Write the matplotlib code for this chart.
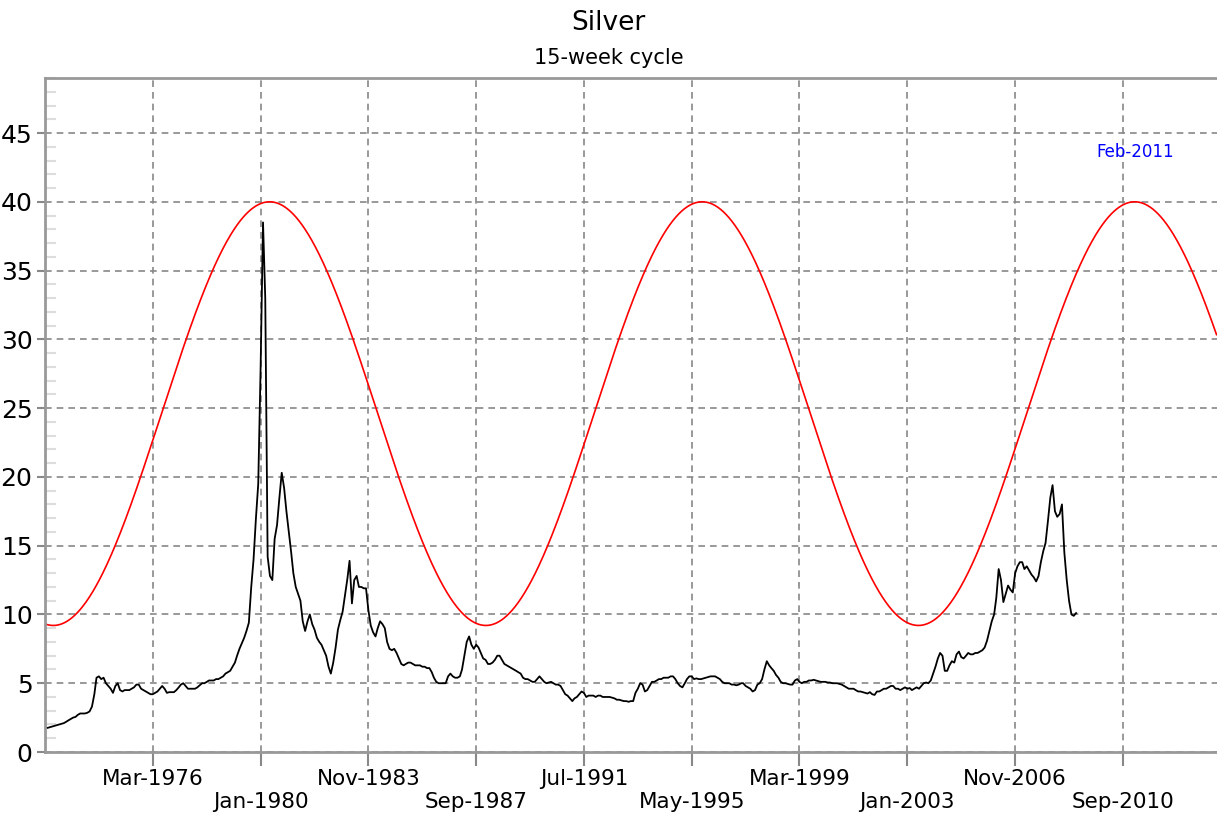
import numpy as np
import pandas as pd
import matplotlib
matplotlib.use("Agg")
import matplotlib.pyplot as plt
from matplotlib.ticker import MultipleLocator

# monthly silver price (USD/oz), starting May-1972
price_start = "1972-05-01"
silver = [
    1.80, 1.75, 1.80, 1.85, 1.90, 1.95, 2.00, 2.05,                     # 1972
    2.10, 2.20, 2.30, 2.40, 2.50, 2.55, 2.70, 2.80, 2.80, 2.80, 2.85, 2.95,  # 1973
    3.30, 4.20, 5.40, 5.50, 5.30, 5.40, 5.00, 4.80, 4.60, 4.30, 4.80, 5.00,  # 1974
    4.50, 4.40, 4.50, 4.50, 4.50, 4.60, 4.70, 4.90, 4.90, 4.60, 4.50, 4.40,  # 1975
    4.30, 4.20, 4.20, 4.30, 4.40, 4.60, 4.80, 4.60, 4.30, 4.35, 4.35, 4.35,  # 1976
    4.50, 4.70, 4.90, 5.00, 4.80, 4.60, 4.60, 4.60, 4.60, 4.70, 4.85, 5.00,  # 1977
    5.00, 5.10, 5.20, 5.20, 5.20, 5.30, 5.30, 5.40, 5.50, 5.70, 5.80, 5.90,  # 1978
    6.20, 6.50, 7.00, 7.50, 7.90, 8.30, 8.80, 9.40, 12.0, 14.0, 17.0, 19.5,  # 1979
    28.0, 38.5, 33.0, 14.2, 12.8, 12.5, 15.5, 16.5, 18.5, 20.3, 19.2, 17.5,  # 1980
    16.0, 14.5, 13.0, 12.0, 11.5, 11.0, 9.50, 8.80, 9.50, 10.0, 9.30, 8.90,  # 1981
    8.30, 8.00, 7.80, 7.40, 7.00, 6.20, 5.70, 6.50, 7.60, 8.90, 9.60, 10.2,  # 1982
    11.4, 12.6, 13.9, 10.8, 12.5, 12.8, 12.0, 12.0, 11.9, 11.9, 10.3, 9.20,  # 1983
    8.70, 8.40, 9.00, 9.50, 9.30, 9.00, 8.00, 7.50, 7.40, 7.50, 7.20, 6.80,  # 1984
    6.40, 6.30, 6.40, 6.50, 6.50, 6.40, 6.30, 6.30, 6.30, 6.20, 6.20, 6.10,  # 1985
    6.10, 5.80, 5.40, 5.10, 5.00, 5.00, 5.00, 5.00, 5.50, 5.70, 5.50, 5.40,  # 1986
    5.40, 5.50, 6.00, 7.00, 8.00, 8.40, 7.80, 7.50, 7.80, 7.60, 7.20, 6.80,  # 1987
    6.70, 6.40, 6.40, 6.50, 6.70, 7.00, 7.00, 6.70, 6.40, 6.30, 6.20, 6.10,  # 1988
    6.00, 5.90, 5.80, 5.70, 5.40, 5.30, 5.30, 5.20, 5.10, 5.10, 5.30, 5.50,  # 1989
    5.30, 5.10, 5.00, 5.05, 5.10, 5.00, 4.90, 4.90, 4.80, 4.50, 4.20, 4.10,  # 1990
    3.90, 3.70, 3.90, 4.00, 4.20, 4.40, 4.30, 4.00, 4.10, 4.10, 4.10, 4.00,  # 1991
    4.10, 4.10, 4.00, 4.00, 4.00, 4.00, 3.95, 3.90, 3.80, 3.80, 3.75, 3.70,  # 1992
    3.70, 3.65, 3.70, 3.70, 4.30, 4.60, 5.00, 4.90, 4.40, 4.50, 4.80, 5.10,  # 1993
    5.10, 5.20, 5.30, 5.30, 5.40, 5.40, 5.40, 5.50, 5.50, 5.30, 5.00, 4.80,  # 1994
    4.70, 5.00, 5.30, 5.50, 5.50, 5.30, 5.35, 5.30, 5.30, 5.35, 5.40, 5.45,  # 1995
    5.50, 5.50, 5.50, 5.40, 5.30, 5.10, 5.00, 5.00, 5.00, 4.90, 4.90, 4.85,  # 1996
    4.90, 5.00, 5.00, 4.80, 4.70, 4.60, 4.40, 4.50, 4.90, 5.00, 5.30, 6.00,  # 1997
    6.60, 6.30, 6.10, 5.90, 5.60, 5.40, 5.10, 5.00, 5.00, 4.95, 4.90, 4.90,  # 1998
    5.20, 5.30, 5.10, 5.00, 5.10, 5.10, 5.20, 5.20, 5.25, 5.20, 5.15, 5.10,  # 1999
    5.10, 5.10, 5.05, 5.05, 5.00, 5.00, 5.00, 4.95, 4.90, 4.80, 4.70, 4.60,  # 2000
    4.60, 4.60, 4.50, 4.40, 4.40, 4.35, 4.30, 4.25, 4.35, 4.20, 4.15, 4.40,  # 2001
    4.40, 4.50, 4.60, 4.60, 4.70, 4.80, 4.80, 4.60, 4.60, 4.50, 4.60, 4.70,  # 2002
    4.60, 4.65, 4.50, 4.60, 4.70, 4.60, 4.80, 5.00, 5.05, 5.00, 5.20, 5.70,  # 2003
    6.20, 6.80, 7.20, 7.00, 5.90, 5.90, 6.30, 6.60, 6.50, 7.10, 7.30, 6.90,  # 2004
    6.80, 7.00, 7.20, 7.10, 7.10, 7.20, 7.20, 7.30, 7.40, 7.60, 8.10, 8.80,  # 2005
    9.50, 10.0, 11.2, 13.3, 12.5, 10.9, 11.5, 12.1, 11.8, 11.6, 13.0, 13.5,  # 2006
    13.8, 13.8, 13.3, 13.5, 13.2, 12.9, 12.7, 12.4, 12.8, 13.8, 14.6, 15.2,  # 2007
    16.8, 18.5, 19.4, 17.5, 17.1, 17.3, 18.0, 14.5, 12.5, 11.0, 10.0, 9.90,  # 2008
    10.1,                                                                # 2009
]

# cycle
cycle_peak = "2011-02-01"
cycle_period_months = 184.6
cycle_low = 9.2
cycle_high = 40.0

tick_labels = ["Mar-1976", "Jan-1980", "Nov-1983", "Sep-1987", "Jul-1991",
               "May-1995", "Mar-1999", "Jan-2003", "Nov-2006", "Sep-2010"]

x_start = "1972-05-01"
x_end = "2014-01-05"

price_dates = pd.date_range(price_start, periods=len(silver), freq="MS")

cyc_dates = pd.date_range(x_start, x_end, freq="7D")
months = (cyc_dates - pd.Timestamp(cycle_peak)).days / 30.4375
mid = (cycle_low + cycle_high) / 2
amp = (cycle_high - cycle_low) / 2
cycle = mid + amp * np.cos(2 * np.pi * months / cycle_period_months)

tick_dates = pd.to_datetime(tick_labels, format="%b-%Y")

fig = plt.figure(figsize=(12.17, 8.15), dpi=100)
ax = fig.add_axes([45 / 1217, 1 - 752 / 815, 1 - 45 / 1217, (752 - 78) / 815])

ax.plot(cyc_dates, cycle, color="#ff0000", lw=1.2)
ax.plot(price_dates, silver, color="black", lw=1.3)

ax.set_xlim(pd.Timestamp(x_start), pd.Timestamp(x_end))
ax.set_ylim(0, 49)

ax.set_xticks(tick_dates)
ax.set_xticklabels([lab if i % 2 == 0 else "\n" + lab for i, lab in enumerate(tick_labels)],
                   fontsize=15.5)
ax.yaxis.set_major_locator(MultipleLocator(5))
ax.yaxis.set_minor_locator(MultipleLocator(1))
ax.tick_params(axis="y", which="major", labelsize=18, length=6, color="#888888", width=1.5, pad=3)
ax.tick_params(axis="y", which="minor", direction="in", length=8, color="#dddddd", width=1.5)
ax.tick_params(axis="x", which="major", length=10, color="#888888", width=1.5, pad=2)

ax.grid(True, which="major", color="#888888", linestyle=(0, (4, 3)), lw=1.2)

for side in ["left", "bottom", "top"]:
    ax.spines[side].set_color("#999999")
    ax.spines[side].set_linewidth(2)
ax.spines["right"].set_visible(False)

ax.text(pd.Timestamp(cycle_peak), 43.6, "Feb-2011", color="#0000ff",
        fontsize=12, ha="center", va="center")

fig.text(0.5, 1 - 23 / 815, "Silver", ha="center", va="center", fontsize=19)
fig.text(0.5, 1 - 58 / 815, "15-week cycle", ha="center", va="center", fontsize=15)

fig.savefig("out.png", dpi=100)
